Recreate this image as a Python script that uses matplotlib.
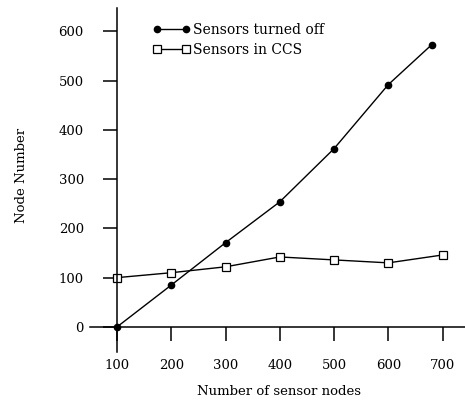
import numpy as np
import matplotlib
matplotlib.use("Agg")
import matplotlib.pyplot as plt

# data
x_off = [100, 200, 300, 400, 500, 600, 680]
sensors_off = [0, 85, 171, 254, 362, 492, 573]
x_ccs = [100, 200, 300, 400, 500, 600, 700]
sensors_ccs = [100, 110, 122, 142, 136, 130, 146]
xticks = [100, 200, 300, 400, 500, 600, 700]
yticks = [0, 100, 200, 300, 400, 500, 600]

plt.rcParams['font.family'] = ['DejaVu Serif']

fig = plt.figure(figsize=(4.65, 4.03), dpi=100)
ax = fig.add_axes([0.1935, 0.1266, 0.806, 0.854])

ax.plot(x_off, sensors_off, color='black', lw=1.0, marker='o', ms=4.5,
        label='Sensors turned off')
ax.plot(x_ccs, sensors_ccs, color='black', lw=1.0, marker='s', ms=6,
        markerfacecolor='white', markeredgewidth=0.9, label='Sensors in CCS')

ax.set_xlim(50, 741)
ax.set_ylim(-51, 648)

# axes cross at (100, 0)
ax.spines['left'].set_position(('data', 100))
ax.spines['bottom'].set_position(('data', 0))
ax.spines['right'].set_visible(False)
ax.spines['top'].set_visible(False)
for s in ['left', 'bottom']:
    ax.spines[s].set_linewidth(1.1)

ax.set_xticks(xticks)
ax.set_yticks(yticks)
ax.tick_params(axis='y', direction='out', length=10, width=1.1, pad=14, labelsize=9.5)
ax.tick_params(axis='x', direction='out', length=10, width=1.1, pad=13, labelsize=9.5)

ax.set_xlabel('Number of sensor nodes', fontsize=9.5)
ax.xaxis.set_label_coords(0.504, -0.095)
ax.set_ylabel('Node Number', fontsize=9.5)
ax.yaxis.set_label_coords(-0.165, 0.512)

ax.legend(loc='upper left', bbox_to_anchor=(0.168, 0.955), frameon=False,
          numpoints=2, handlelength=2.65, handletextpad=0.25, labelspacing=0.42,
          fontsize=10, borderaxespad=0, borderpad=0)

fig.savefig('out.png', dpi=100)
